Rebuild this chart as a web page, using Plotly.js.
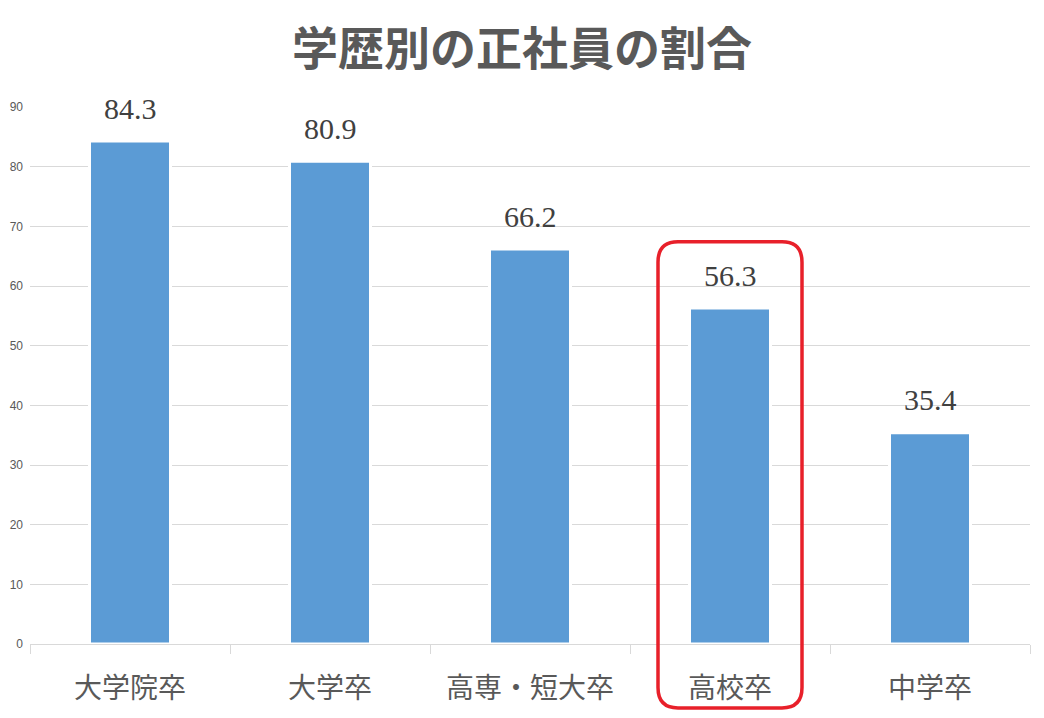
<!DOCTYPE html>
<html>
<head>
<meta charset="utf-8">
<script src="https://cdn.plot.ly/plotly-3.0.1.min.js"></script>
<style>
  html, body { margin: 0; padding: 0; background: #fff; }
  #chart { width: 1044px; height: 718px; }
</style>
</head>
<body>
<div id="chart"></div>
<script>
// 学歴別の正社員の割合
const categories = ['大学院卒', '大学卒', '高専・短大卒', '高校卒', '中学卒'];
const values = [84.3, 80.9, 66.2, 56.3, 35.4];
const highlightIndex = 3; // 高校卒 を赤枠で囲む
const yTicks = [0, 10, 20, 30, 40, 50, 60, 70, 80, 90];

function drawChart() {
  const barTrace = {
    type: 'bar',
    x: categories,
    y: values,
    marker: {
      color: '#5b9bd5',
      line: { color: '#ffffff', width: 3 }
    },
    hoverinfo: 'none'
  };

  // 数値ラベル（棒の上）
  const annotations = values.map((v, i) => ({
    x: categories[i],
    y: v,
    xref: 'x',
    yref: 'y',
    text: v.toFixed(1),
    showarrow: false,
    yanchor: 'middle',
    yshift: 33,
    font: { family: 'Liberation Serif, DejaVu Serif, serif', size: 30, color: '#404040' }
  }));

  // 赤い角丸の枠（カテゴリ位置から計算）
  const n = categories.length;
  const half = 0.36 / n;
  const cx = (highlightIndex + 0.5) / n;
  const x0 = cx - half, x1 = cx + half;
  const y0 = -0.119, y1 = 0.749;
  const rx = 0.02, ry = 0.038;
  const path = [
    'M', x0 + rx, y1,
    'L', x1 - rx, y1,
    'Q', x1, y1, x1, y1 - ry,
    'L', x1, y0 + ry,
    'Q', x1, y0, x1 - rx, y0,
    'L', x0 + rx, y0,
    'Q', x0, y0, x0, y0 + ry,
    'L', x0, y1 - ry,
    'Q', x0, y1, x0 + rx, y1,
    'Z'
  ].join(' ');

  const layout = {
    width: 1044,
    height: 718,
    margin: { l: 30, r: 14, t: 107, b: 74 },
    paper_bgcolor: '#ffffff',
    plot_bgcolor: '#ffffff',
    showlegend: false,
    bargap: 0.595,
    title: {
      text: '<b>学歴別の正社員の割合</b>',
      x: 0.5,
      xanchor: 'center',
      y: 0.932,
      yanchor: 'middle',
      font: { family: 'Noto Sans CJK JP, sans-serif', size: 46, color: '#595959' }
    },
    xaxis: {
      type: 'category',
      showgrid: false,
      showline: true,
      linecolor: '#d9d9d9',
      linewidth: 1,
      ticks: 'outside',
      tickson: 'boundaries',
      ticklen: 9,
      tickcolor: '#d9d9d9',
      ticklabelstandoff: 19,
      tickfont: { family: 'Noto Sans CJK JP, sans-serif', size: 28, color: '#595959' },
      fixedrange: true
    },
    yaxis: {
      range: [0, 90],
      tickmode: 'array',
      tickvals: yTicks,
      ticktext: yTicks.map(String),
      showgrid: true,
      gridcolor: '#d9d9d9',
      gridwidth: 1,
      zeroline: false,
      showline: false,
      ticks: '',
      ticklabelstandoff: 6,
      tickfont: { family: 'Liberation Sans, Arial, sans-serif', size: 12, color: '#595959' },
      fixedrange: true
    },
    annotations: annotations,
    shapes: [{
      type: 'path',
      xref: 'paper',
      yref: 'paper',
      path: path,
      line: { color: '#e8202a', width: 3.5 },
      fillcolor: 'rgba(0,0,0,0)'
    }]
  };

  Plotly.newPlot('chart', [barTrace], layout, { displayModeBar: false, staticPlot: true });
}
drawChart();
</script>
</body>
</html>
